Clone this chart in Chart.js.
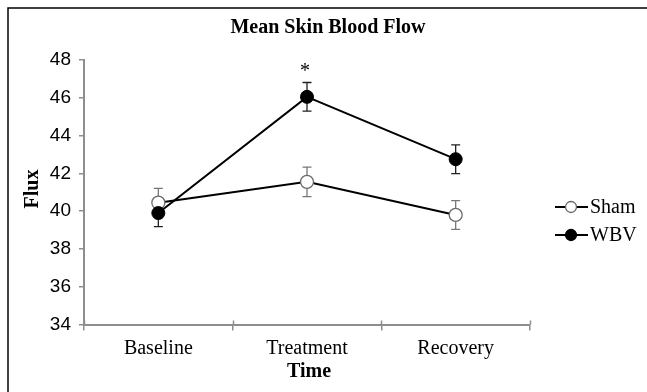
<!DOCTYPE html>
<html>
<head>
<meta charset="utf-8">
<script src="https://cdn.jsdelivr.net/npm/chart.js@4"></script>
<style>
  html, body { margin: 0; padding: 0; background: #fff; }
  canvas { display: block; }
</style>
</head>
<body>
<canvas id="flowChart" width="647" height="392"></canvas>
<script>
// data
const categories = ['Baseline', 'Treatment', 'Recovery'];
const shamMean = [40.45, 41.55, 39.8];
const shamErr  = [0.75, 0.78, 0.76];
const wbvMean  = [39.9, 46.05, 42.75];
const wbvErr   = [0.72, 0.76, 0.76];
const yTicks   = [34, 36, 38, 40, 42, 44, 46, 48];
const sigMarks = ['', '*', ''];   // asterisk over WBV

const SERIF = "'Liberation Serif', 'Times New Roman', serif";
const SANS  = "'Liberation Sans', Arial, sans-serif";
const AXIS_GRAY = '#8e8e8e';

// error bars, drawn under the markers
const errorBars = {
  id: 'errorBars',
  beforeDatasetsDraw(chart) {
    const { ctx, scales: { y } } = chart;
    chart.data.datasets.forEach((ds, i) => {
      const meta = chart.getDatasetMeta(i);
      meta.data.forEach((pt, j) => {
        const top = y.getPixelForValue(ds.data[j] + ds.errors[j]);
        const bot = y.getPixelForValue(ds.data[j] - ds.errors[j]);
        ctx.save();
        ctx.strokeStyle = ds.errColor;
        ctx.lineWidth = 1.3;
        ctx.beginPath();
        ctx.moveTo(pt.x, top); ctx.lineTo(pt.x, bot);
        ctx.moveTo(pt.x - 4.5, top); ctx.lineTo(pt.x + 4.5, top);
        ctx.moveTo(pt.x - 4.5, bot); ctx.lineTo(pt.x + 4.5, bot);
        ctx.stroke();
        ctx.restore();
      });
    });
  }
};

// title, axis titles, asterisk, legend, outer frame
const decorations = {
  id: 'decorations',
  afterDraw(chart) {
    const { ctx, chartArea, scales: { y } } = chart;
    ctx.save();
    ctx.fillStyle = '#000';
    ctx.textAlign = 'center';
    ctx.textBaseline = 'middle';

    ctx.font = 'bold 20px ' + SERIF;
    ctx.fillText('Mean Skin Blood Flow', 328, 28);
    ctx.fillText('Time', 309, 372);

    ctx.save();
    ctx.translate(33, 189);
    ctx.rotate(-Math.PI / 2);
    ctx.fillText('Flux', 0, 0);
    ctx.restore();

    // significance marks above WBV error bar
    const wbvMeta = chart.getDatasetMeta(1);
    ctx.font = '20px ' + SERIF;
    sigMarks.forEach((m, j) => {
      if (!m) return;
      const pt = wbvMeta.data[j];
      const yy = y.getPixelForValue(wbvMean[j] + wbvErr[j]);
      ctx.fillText(m, pt.x - 2, yy - 11);
    });

    // legend
    const items = [
      { label: 'Sham', fill: '#fff', stroke: '#666', y: 207 },
      { label: 'WBV', fill: '#000', stroke: '#000', y: 235 }
    ];
    items.forEach(it => {
      ctx.strokeStyle = '#000';
      ctx.lineWidth = 2;
      ctx.beginPath();
      ctx.moveTo(555, it.y); ctx.lineTo(588, it.y);
      ctx.stroke();
      ctx.beginPath();
      ctx.arc(571, it.y, 5.5, 0, Math.PI * 2);
      ctx.fillStyle = it.fill;
      ctx.fill();
      ctx.strokeStyle = it.stroke;
      ctx.lineWidth = 1.3;
      ctx.stroke();
      ctx.fillStyle = '#000';
      ctx.textAlign = 'left';
      ctx.fillText(it.label, 590, it.y + 1);
    });

    // upward half of the x category ticks
    ctx.strokeStyle = AXIS_GRAY;
    ctx.lineWidth = 1.5;
    const step = (chartArea.right - chartArea.left) / categories.length;
    for (let k = 0; k <= categories.length; k++) {
      const xx = Math.round(chartArea.left + k * step) + 0.5;
      ctx.beginPath();
      ctx.moveTo(xx, chartArea.bottom - 4); ctx.lineTo(xx, chartArea.bottom);
      ctx.stroke();
    }

    // frame: only top and left edges fall inside the picture
    ctx.strokeStyle = '#000';
    ctx.lineWidth = 1.5;
    ctx.beginPath();
    ctx.moveTo(8, 392); ctx.lineTo(8, 8); ctx.lineTo(647, 8);
    ctx.stroke();
    ctx.restore();
  }
};

const ctx = document.getElementById('flowChart').getContext('2d');
new Chart(ctx, {
  type: 'line',
  data: {
    labels: categories,
    datasets: [
      {
        label: 'Sham',
        data: shamMean,
        errors: shamErr,
        errColor: '#777',
        order: 1,
        borderColor: '#000',
        borderWidth: 2,
        pointStyle: 'circle',
        pointRadius: 6.5,
        pointBackgroundColor: '#fff',
        pointBorderColor: '#6a6a6a',
        pointBorderWidth: 1.3,
        tension: 0
      },
      {
        label: 'WBV',
        data: wbvMean,
        errors: wbvErr,
        errColor: '#222',
        order: 0,
        borderColor: '#000',
        borderWidth: 2,
        pointStyle: 'circle',
        pointRadius: 6.5,
        pointBackgroundColor: '#000',
        pointBorderColor: '#000',
        pointBorderWidth: 1,
        tension: 0
      }
    ]
  },
  options: {
    responsive: false,
    animation: false,
    layout: { padding: { top: 60, right: 117, bottom: 0, left: 0 } },
    plugins: {
      legend: { display: false },
      title: { display: false },
      tooltip: { enabled: false }
    },
    scales: {
      x: {
        type: 'category',
        offset: true,
        afterFit: s => { s.height = 67.5; },
        grid: {
          offset: true,
          drawOnChartArea: false,
          color: AXIS_GRAY,
          lineWidth: 1.5,
          tickLength: 6
        },
        border: { color: AXIS_GRAY, width: 2 },
        ticks: {
          color: '#000',
          font: { family: SERIF, size: 20 },
          padding: 6
        }
      },
      y: {
        min: 34,
        max: 48,
        afterFit: s => { s.width = 84; },
        afterBuildTicks: s => { s.ticks = yTicks.map(v => ({ value: v })); },
        grid: {
          drawOnChartArea: false,
          color: AXIS_GRAY,
          lineWidth: 1.5,
          tickLength: 5
        },
        border: { color: AXIS_GRAY, width: 2 },
        ticks: {
          color: '#000',
          font: { family: SANS, size: 19 },
          padding: 8
        }
      }
    }
  },
  plugins: [errorBars, decorations]
});
</script>
</body>
</html>
